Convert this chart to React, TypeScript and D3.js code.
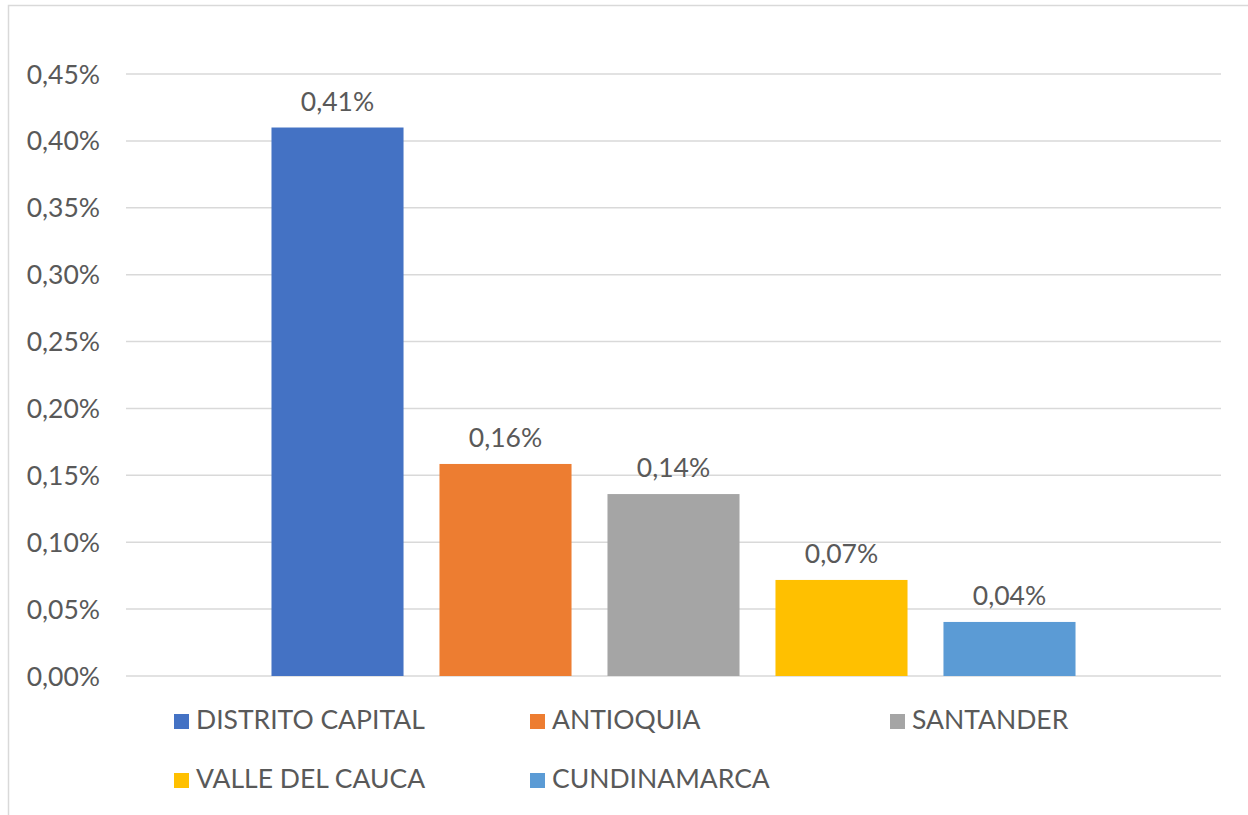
import React from "react";
import * as d3 from "d3";

const series = ["DISTRITO CAPITAL", "ANTIOQUIA", "SANTANDER", "VALLE DEL CAUCA", "CUNDINAMARCA"];
const values = [0.41, 0.1585, 0.136, 0.0718, 0.0404];
const colors = ["#4472C4", "#ED7D31", "#A5A5A5", "#FFC000", "#5B9BD5"];
const yTicks = [0, 0.05, 0.1, 0.15, 0.2, 0.25, 0.3, 0.35, 0.4, 0.45];

const W = 1248;
const H = 815;
const plotLeft = 126;
const plotRight = 1221;
const plotTop = 74;
const plotBottom = 676;
const FONT = "Lato, 'Open Sans', sans-serif";
const TEXT = "#595959";
const FS = 26.5;
const FW = 400;

const locale = d3.formatLocale({ decimal: ",", thousands: ".", grouping: [3], currency: ["", ""] });
const fmt = (v: number) => locale.format(".2f")(v) + "%";

export default function App() {
  const y = d3.scaleLinear().domain([0, 0.45]).range([plotBottom, plotTop]);
  const x = d3
    .scaleBand<string>()
    .domain(series)
    .range([plotLeft, plotRight])
    .paddingInner(0.214)
    .paddingOuter(0.866);

  const legendCols = [174, 530, 890];
  const legendRows = [729, 788];

  return (
    <svg
      width={W}
      height={H}
      style={{ position: "fixed", left: 0, top: 0, background: "#fff" }}
      fontFamily={FONT}
      fontWeight={FW}
    >
      <rect x={0} y={0} width={W} height={H} fill="#fff" />
      <rect x={8.5} y={5.5} width={1400} height={1000} fill="none" stroke="#d9d9d9" strokeWidth={1.5} />
      {yTicks.map((t) => (
        <g key={t}>
          <line x1={plotLeft} x2={plotRight} y1={y(t)} y2={y(t)} stroke="#d9d9d9" strokeWidth={1.5} />
          <text x={100} y={y(t)} dy="0.36em" textAnchor="end" fontSize={FS} fill={TEXT}>
            {fmt(t)}
          </text>
        </g>
      ))}
      {series.map((s, i) => (
        <g key={s}>
          <rect
            x={x(s)}
            y={y(values[i])}
            width={x.bandwidth()}
            height={plotBottom - y(values[i])}
            fill={colors[i]}
          />
          <text
            x={(x(s) as number) + x.bandwidth() / 2}
            y={y(values[i]) - 17}
            textAnchor="middle"
            fontSize={FS}
            fill={TEXT}
          >
            {fmt(values[i])}
          </text>
        </g>
      ))}
      {series.map((s, i) => {
        const col = legendCols[i % 3];
        const row = legendRows[Math.floor(i / 3)];
        return (
          <g key={"lg" + s}>
            <rect x={col} y={row - 15} width={15} height={15} fill={colors[i]} />
            <text x={col + 22} y={row} fontSize={FS} fill={TEXT}>
              {s}
            </text>
          </g>
        );
      })}
    </svg>
  );
}
